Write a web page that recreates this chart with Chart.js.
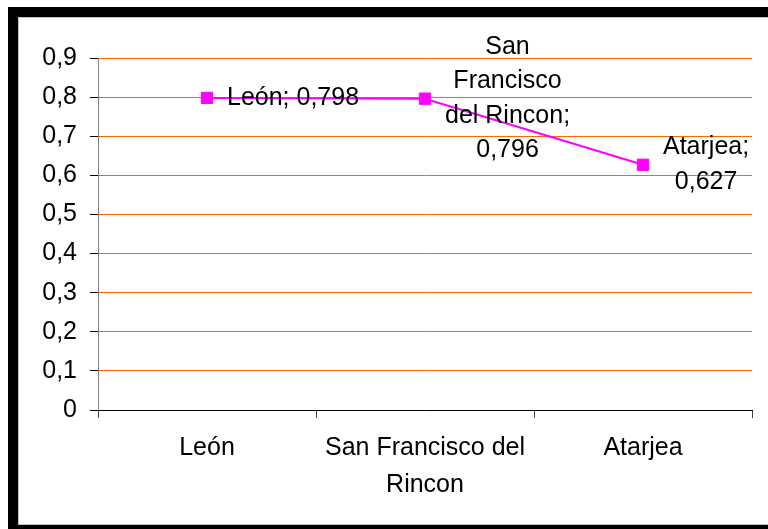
<!DOCTYPE html>
<html>
<head>
<meta charset="utf-8">
<script src="https://cdn.jsdelivr.net/npm/chart.js@4.4.0/dist/chart.umd.min.js"></script>
<style>
  html, body { margin: 0; padding: 0; background: #fff; overflow: hidden; }
  #cornice {
    position: absolute; left: 8px; top: 7px; width: 780px; height: 508px;
    border-left: 10px solid #000; border-top: 10px solid #000; border-bottom: 10px solid #000;
    box-shadow: inset 1px 1px 0 #c0c0c0, inset 0 -1px 0 #c0c0c0;
  }
  #grafico { position: absolute; left: 0; top: 0; }
</style>
</head>
<body>
<div id="cornice"></div>
<canvas id="grafico" width="768" height="529"></canvas>
<script>
// dati del grafico
const categorie = ["León", ["San Francisco del", "Rincon"], "Atarjea"];
const valori = [0.798, 0.796, 0.627];
// etichette dei punti, {v} viene sostituito con il valore
const righeEtichette = [
  ["León; {v}"],
  ["San", "Francisco", "del Rincon;", "{v}"],
  ["Atarjea;", "{v}"],
];
const etichetteY = ["0", "0,1", "0,2", "0,3", "0,4", "0,5", "0,6", "0,7", "0,8", "0,9"];

const FONT = "Liberation Sans, Arial, sans-serif";

// formato con la virgola decimale
function formatta(v, dec) {
  return v.toFixed(dec).replace(".", ",");
}

// plugin che scrive le etichette a destra di ogni punto
const etichettePunti = {
  id: "etichettePunti",
  afterDatasetsDraw(chart) {
    const ctx = chart.ctx;
    const meta = chart.getDatasetMeta(0);
    ctx.save();
    ctx.font = "25px " + FONT;
    ctx.fillStyle = "#000";
    ctx.textBaseline = "middle";
    ctx.textAlign = "center";
    const passo = 34.5;
    meta.data.forEach((p, i) => {
      const righe = righeEtichette[i].map((r) => r.replace("{v}", formatta(valori[i], 3)));
      const larghezza = Math.max(...righe.map((r) => ctx.measureText(r).width));
      const cx = p.x + 20 + larghezza / 2;
      const y0 = p.y - ((righe.length - 1) * passo) / 2;
      righe.forEach((r, k) => ctx.fillText(r, cx, y0 + k * passo));
    });
    ctx.restore();
  },
};

new Chart(document.getElementById("grafico").getContext("2d"), {
  type: "line",
  data: {
    labels: categorie,
    datasets: [
      {
        data: valori,
        borderColor: "#ff00ff",
        backgroundColor: "#ff00ff",
        borderWidth: 2,
        pointStyle: "rect",
        pointRadius: 8,
        pointBorderWidth: 1,
        pointBorderColor: "#ff00ff",
        tension: 0,
      },
    ],
  },
  options: {
    responsive: false,
    animation: false,
    layout: { padding: { top: 58, right: 16, left: 0, bottom: 0 } },
    plugins: { legend: { display: false }, tooltip: { enabled: false } },
    scales: {
      y: {
        min: 0,
        max: 0.9,
        grid: {
          color: "#ff6600",
          lineWidth: 1,
          tickColor: "#000",
          tickLength: 8,
        },
        border: { color: "#808080", width: 1 },
        ticks: {
          stepSize: 0.1,
          color: "#000",
          font: { family: FONT, size: 25 },
          padding: 13,
          callback: (v, i) => etichetteY[i],
        },
        afterFit(scale) { scale.width = 98; },
      },
      x: {
        offset: true,
        grid: { offset: true, drawOnChartArea: false, tickLength: 8, tickColor: "#404040" },
        border: { color: "#000", width: 1, z: 1 },
        ticks: { color: "#000", font: { family: FONT, size: 25, lineHeight: 1.5 }, padding: 11, maxRotation: 0 },
        afterFit(scale) { scale.height = 119; },
      },
    },
  },
  plugins: [etichettePunti],
});
</script>
</body>
</html>
